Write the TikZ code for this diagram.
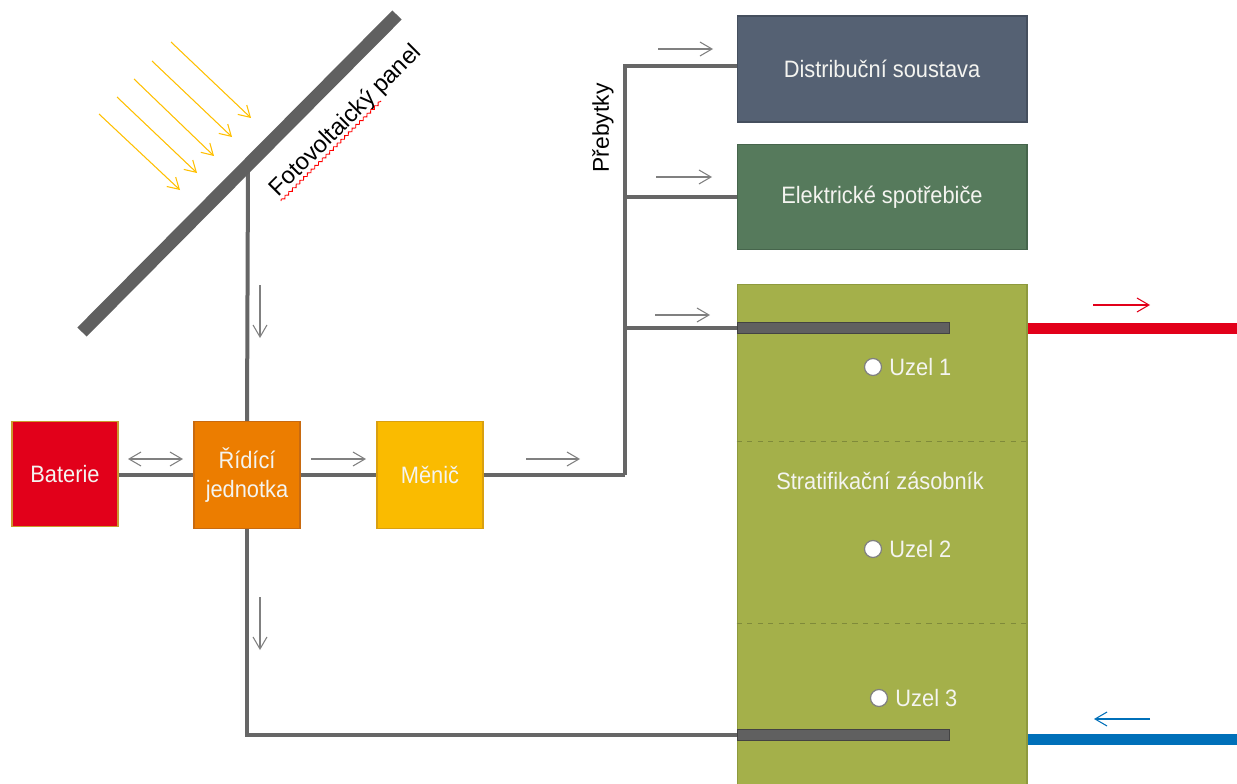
\documentclass[tikz,border=0pt]{standalone}
\usepackage{fontspec}
\setmainfont{Liberation Sans}
\newfontfamily\condfont[FakeStretch=0.92]{Liberation Sans}
\usetikzlibrary{arrows.meta,decorations.pathmorphing,calc}
\definecolor{wiregray}{HTML}{666666}
\definecolor{bargray}{HTML}{606060}
\definecolor{flowgray}{HTML}{808080}
\definecolor{sunyellow}{HTML}{FFC000}
\definecolor{batred}{HTML}{E2001A}
\definecolor{batborder}{HTML}{C99A2E}
\definecolor{ctrlorange}{HTML}{EC7D00}
\definecolor{ctrlborder}{HTML}{C86A10}
\definecolor{invyellow}{HTML}{FABB00}
\definecolor{invborder}{HTML}{D9A010}
\definecolor{distblue}{HTML}{556173}
\definecolor{distborder}{HTML}{454F5E}
\definecolor{elecgreen}{HTML}{567A5C}
\definecolor{elecborder}{HTML}{46654C}
\definecolor{tankolive}{HTML}{A4B04A}
\definecolor{tankborder}{HTML}{8E9A3E}
\definecolor{tankdash}{HTML}{7F8A3A}
\definecolor{hotred}{HTML}{E2001A}
\definecolor{coldblue}{HTML}{0070B9}
\definecolor{textwhite}{HTML}{F4F4F0}
\begin{document}
\begin{tikzpicture}[x=0.02cm,y=-0.02cm,
  wire/.style={draw=wiregray,line width=0.08cm},
  flow/.style={draw=flowgray,line width=0.6pt,-{Straight Barb[length=2.4mm,width=2.8mm]}},
  flowboth/.style={draw=flowgray,line width=0.6pt,{Straight Barb[length=2.4mm,width=2.8mm]}-{Straight Barb[length=2.4mm,width=2.8mm]}},
  ray/.style={draw=sunyellow,line width=0.6pt,-{Straight Barb[length=2.2mm,width=2.6mm]}},
  box/.style={rectangle,inner sep=0pt,text=textwhite,align=center,line width=0.6pt,
    font=\condfont\fontsize{13.5}{16.5}\selectfont},
  bar/.style={rectangle,inner sep=0pt,fill=bargray,draw=bargray!70!black,line width=0.5pt,
    minimum width=4.24cm,minimum height=0.22cm},
  node dot/.style={circle,fill=white,draw=gray,line width=0.7pt,minimum size=0.34cm,inner sep=0pt},
  uzel/.style={anchor=west,inner sep=0pt,text=textwhite,font=\condfont\fontsize{13.5}{16.5}\selectfont},
  plain/.style={font=\fontsize{13}{16}\selectfont,text=black,inner sep=0pt},
]
\clip (0,0) rectangle (1237,784);
\fill[white] (0,0) rectangle (1237,784);

% ---- boxes
\node[box,fill=batred,draw=batborder,minimum width=2.12cm,minimum height=2.1cm] (bat) at (65,474) {Baterie};
\node[box,fill=ctrlorange,draw=ctrlborder,minimum width=2.12cm,minimum height=2.14cm] (ctrl) at (247,475) {Řídící\\jednotka};
\node[box,fill=invyellow,draw=invborder,minimum width=2.12cm,minimum height=2.14cm] (inv) at (430,475) {Měnič};
\node[box,fill=distblue,draw=distborder,minimum width=5.8cm,minimum height=2.12cm] (dist) at (882,69) {Distribuční soustava};
\node[box,fill=elecgreen,draw=elecborder,minimum width=5.8cm,minimum height=2.1cm] (elec) at (882,197) {Elektrické spotřebiče};
\node[box,fill=tankolive,draw=tankborder,minimum width=5.8cm,minimum height=10.2cm] (tank) at (882,539) {};
\node[box] (tanklabel) at (880,481) {Stratifikační zásobník};
\draw[tankdash,dashed,line width=0.5pt] (tank.west |- 0,441) -- (tank.east |- 0,441);
\draw[tankdash,dashed,line width=0.5pt] (tank.west |- 0,623) -- (tank.east |- 0,623);

% ---- tank coils
\node[bar] (bar1) at (843,328) {};
\node[bar] (bar2) at (843,735) {};

% ---- nodes in tank
\node[node dot] (u1) at (873,367) {};
\node[uzel] (u1t) at ([xshift=0.14cm]u1.east) {Uzel 1};
\node[node dot] (u2) at (873,549) {};
\node[uzel] (u2t) at ([xshift=0.14cm]u2.east) {Uzel 2};
\node[node dot] (u3) at (879,698) {};
\node[uzel] (u3t) at ([xshift=0.14cm]u3.east) {Uzel 3};

% ---- pipes
\coordinate (hotout) at (1245,328);
\coordinate (coldin) at (1245,739);
\draw[hotred,line width=0.22cm] (tank.east |- bar1) -- (hotout);
\draw[coldblue,line width=0.22cm] (tank.east |- coldin) -- (coldin);
\draw[flow,draw=hotred] (1093,305) -- (1150,305);
\draw[flow,draw=coldblue] (1150,719) -- (1094,719);

% ---- panel
\coordinate (pj) at (248,168);
\draw[wire] (pj) -- (ctrl.north);
\coordinate (p1) at (82,332);
\coordinate (p2) at (397,15);
\draw[draw=bargray,line width=0.26cm] (p1) -- (p2);
\node[plain,rotate=45,font=\fontsize{13.5}{16}\selectfont] (pvlabel) at (346,121) {Fotovoltaický panel};
\draw[red,line width=0.5pt,decorate,decoration={snake,amplitude=0.7pt,segment length=3pt}]
  (281,201) -- (381,101);

% ---- sun rays
\draw[ray] (99,114) -- (180,190);
\draw[ray] (117,97) -- (197,173);
\draw[ray] (134,79) -- (214,156);
\draw[ray] (152,61) -- (232,137);
\draw[ray] (171,42) -- (251,118);

% ---- wiring
\coordinate (hub) at (625,475);
\draw[wire] (bat.east |- hub) -- (ctrl.west |- hub);
\draw[wire] (ctrl.east |- hub) -- (inv.west |- hub);
\draw[wire] (inv.east |- hub) -- (hub);
\draw[wire] (hub) |- ([yshift=0.06cm]dist.west);
\draw[wire] (hub |- elec.west) -- (elec.west);
\draw[wire] (hub |- bar1.west) -- (bar1.west);
\draw[wire] (ctrl.south) |- (bar2.west);
\node[plain,rotate=90] (preb) at (603,128) {Přebytky};

% ---- flow arrows
\draw[flow] (260,285) -- (260,338);
\draw[flow] (260,597) -- (260,650);
\draw[flowboth] (128,459) -- (183,459);
\draw[flow] (311,459) -- (366,459);
\draw[flow] (526,459) -- (580,459);
\draw[flow] (658,49) -- (713,49);
\draw[flow] (656,177) -- (712,177);
\draw[flow] (655,315) -- (710,315);
\end{tikzpicture}
\end{document}
